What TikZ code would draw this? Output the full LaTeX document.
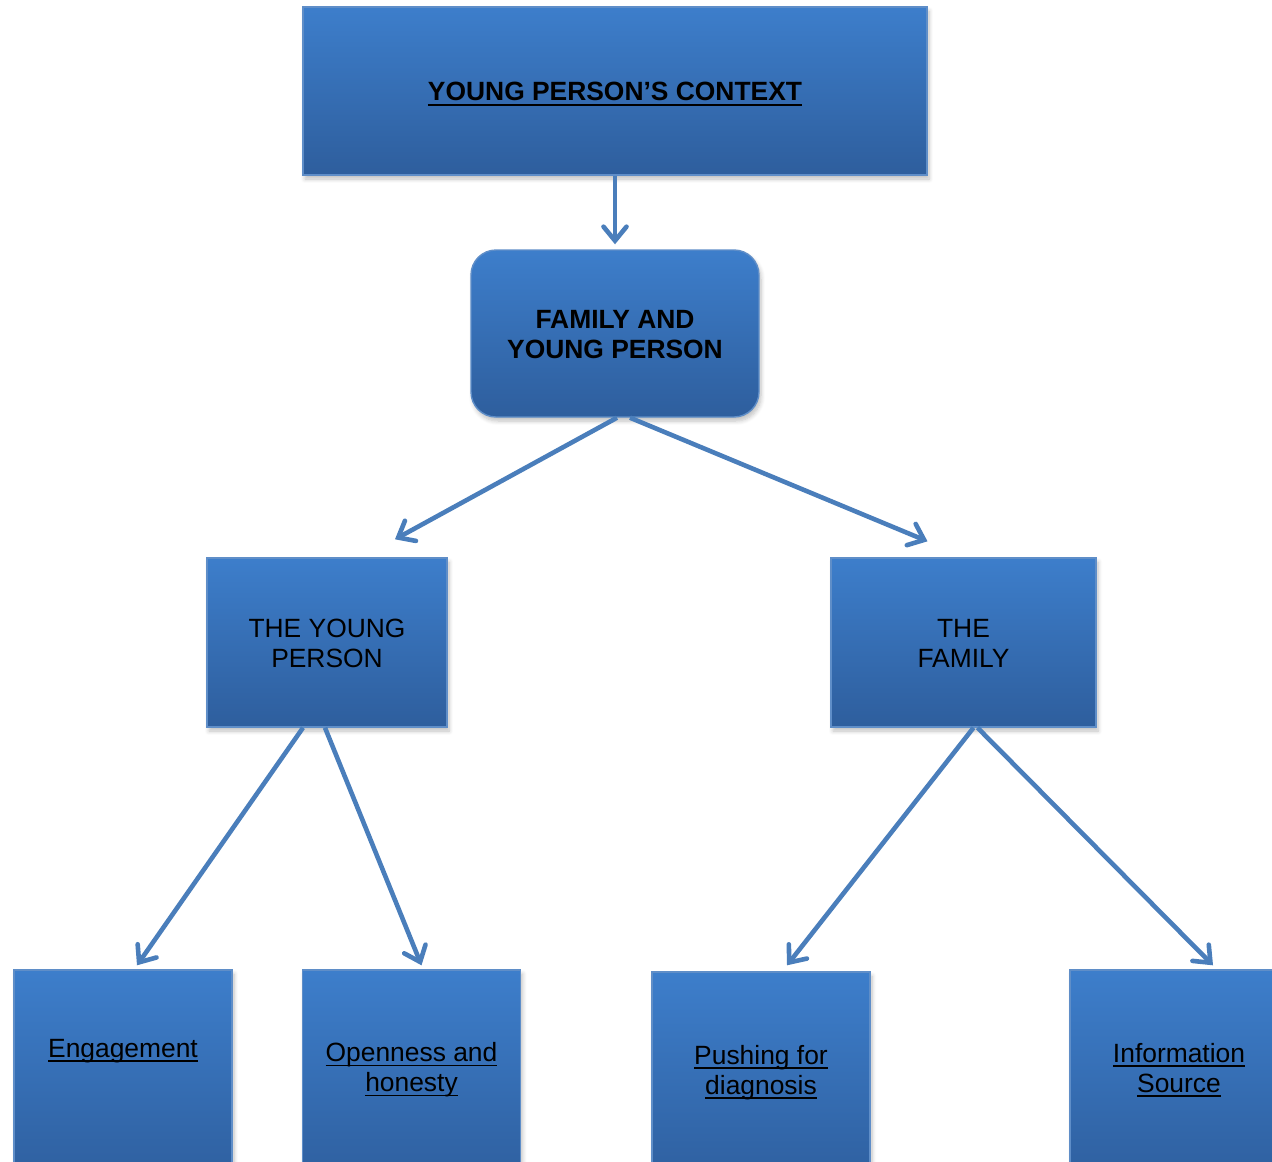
\documentclass[tikz,border=0pt]{standalone}
\usepackage{fontspec}
\setmainfont{Liberation Sans}
\usepackage{tikz}
\usetikzlibrary{arrows.meta, shadows.blur, calc}
\usetikzlibrary{positioning}

\definecolor{boxtop}{RGB}{61,126,203}
\definecolor{boxbottom}{RGB}{46,94,157}
\definecolor{boxline}{RGB}{95,142,200}
\definecolor{arrowblue}{RGB}{74,126,187}

\newcommand{\uln}[1]{\setbox0\hbox{#1}\rlap{\rule[-2.3pt]{\wd0}{0.9pt}}\box0}

\begin{document}
\begin{tikzpicture}[x=0.5pt, y=-0.5pt,
    boxnode/.style={rectangle, draw=boxline, line width=0.7pt, top color=boxtop, bottom color=boxbottom,
        inner sep=0pt, blur shadow={shadow xshift=1pt, shadow yshift=-2pt, shadow opacity=25, shadow blur steps=6}},
    leafbox/.style={boxnode, minimum width=109pt, minimum height=110pt},
    boxtext/.style={align=center, inner sep=0pt, font=\fontsize{13.2}{15}\selectfont},
    link/.style={draw=arrowblue, line width=2.3pt, -{Straight Barb[length=7pt, width=11.5pt, line cap=round]}}
    ]
    \useasboundingbox (0,0) rectangle (1272,1161);
    \clip (0,0) rectangle (1272,1161);

    % top levels
    \node[boxnode, minimum width=312pt, minimum height=84pt] (context) at (615,91) {};
    \node[boxtext, font=\fontsize{13.2}{15}\selectfont\bfseries] at (615,94) {\uln{YOUNG PERSON’S CONTEXT}};
    \node[boxnode, rounded corners=12.5pt, minimum width=144pt, minimum height=83.5pt] (famyp) at (615,333.5) {};
    \node[boxtext, font=\fontsize{13.2}{15}\selectfont\bfseries] at (615,334.5) {FAMILY AND\\YOUNG PERSON};

    \node[boxnode, minimum width=120pt, minimum height=84.5pt] (person) at (327,642.5) {};
    \node[boxtext] at (327,643.5) {THE YOUNG\\PERSON};
    \node[boxnode, minimum width=132.5pt, minimum height=84.5pt] (family) at (963.5,642.5) {};
    \node[boxtext] at (963.5,643.5) {THE\\FAMILY};

    % bottom row, cut by the page edge
    \node[leafbox] (engage) at (123,1080) {};
    \node[boxtext] at (123,1051) {\uln{Engagement}};
    \node[leafbox] (open) at (411.5,1080) {};
    \node[boxtext] at (411.5,1070) {\uln{Openness and}\\\uln{honesty}};
    \node[leafbox] (push) at (761,1082) {};
    \node[boxtext] at (761,1072.5) {\uln{Pushing for}\\\uln{diagnosis}};
    \node[leafbox] (info) at (1179,1080) {};
    \node[boxtext] at (1179,1070) {\uln{Information}\\\uln{Source}};

    \path[link] (context.south) -- ([yshift=2.5pt]famyp.north);
    \path[link] ([xshift=1pt]famyp.south) -- ([xshift=34pt, yshift=9pt]person.north);
    \path[link] ([xshift=7.5pt]famyp.south) -- ([xshift=-18pt, yshift=8pt]family.north);
    \path[link] ([xshift=-12pt]person.south) -- ([xshift=7pt, yshift=2pt]engage.north);
    \path[link] ([xshift=-1pt]person.south) -- ([xshift=5pt, yshift=2pt]open.north);
    \path[link] ([xshift=5pt]family.south) -- ([xshift=13pt, yshift=3pt]push.north);
    \path[link] ([xshift=7pt]family.south) -- ([xshift=17pt, yshift=2pt]info.north);
\end{tikzpicture}
\end{document}
